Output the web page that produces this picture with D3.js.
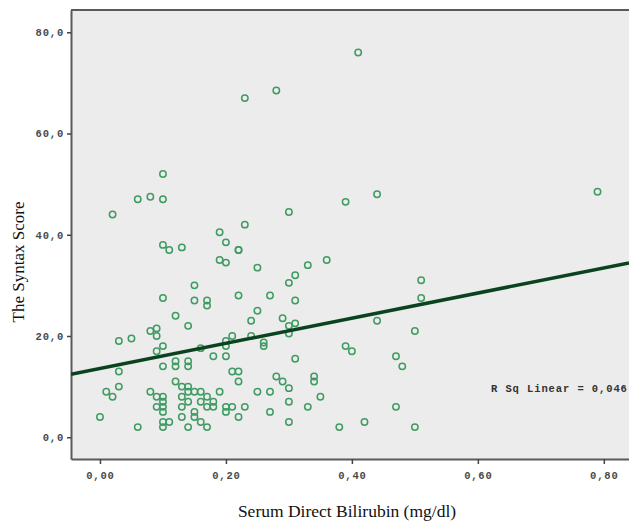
<!DOCTYPE html>
<html>
<head>
<meta charset="utf-8">
<script src="https://cdn.jsdelivr.net/npm/d3@7"></script>
<style>
  html, body { margin: 0; padding: 0; background: #ffffff; }
  svg { display: block; }
</style>
</head>
<body>
<svg id="chart" width="629" height="521"></svg>
<script>
// ---- data ----
const bilirubin = [
  0.41,0.28,0.23,0.10,0.06,0.08,0.10,0.02,0.30,0.79,0.39,0.44,0.23,0.19,0.20,0.10,0.11,0.13,0.22,0.22,
  0.36,0.19,0.20,0.25,0.33,0.31,0.30,0.15,0.51,0.10,0.15,0.17,0.17,0.22,0.27,0.31,0.51,0.25,0.12,0.24,
  0.29,0.44,0.30,0.31,0.14,0.08,0.09,0.30,0.50,0.09,0.21,0.24,0.03,0.05,0.20,0.26,0.10,0.20,0.26,0.39,
  0.16,0.09,0.40,0.18,0.20,0.47,0.31,0.12,0.14,0.10,0.12,0.14,0.48,0.03,0.21,0.22,0.28,0.34,0.12,0.22,
  0.29,0.34,0.03,0.13,0.14,0.30,0.01,0.08,0.14,0.15,0.16,0.19,0.25,0.27,0.02,0.09,0.10,0.13,0.17,0.35,
  0.10,0.14,0.16,0.18,0.30,0.09,0.10,0.13,0.17,0.18,0.20,0.21,0.23,0.33,0.47,0.10,0.15,0.20,0.27,0.00,
  0.13,0.15,0.22,0.10,0.11,0.16,0.30,0.42,0.06,0.10,0.14,0.17,0.38,0.50
];
const syntaxScore = [
  76.0,68.5,67.0,52.0,47.0,47.5,47.0,44.0,44.5,48.5,46.5,48.0,42.0,40.5,38.5,38.0,37.0,37.5,37.0,37.0,
  35.0,35.0,34.5,33.5,34.0,32.0,30.5,30.0,31.0,27.5,27.0,27.0,26.0,28.0,28.0,27.0,27.5,25.0,24.0,23.0,
  23.5,23.0,22.0,22.5,22.0,21.0,21.5,20.5,21.0,20.0,20.0,20.0,19.0,19.5,19.0,18.7,18.0,18.0,18.0,18.0,
  17.6,17.0,17.0,16.0,16.0,16.0,15.5,15.0,15.0,14.0,14.0,14.0,14.0,13.0,13.0,13.0,12.0,12.0,11.0,11.0,
  11.0,11.0,10.0,10.0,10.0,9.7,9.0,9.0,9.0,9.0,9.0,9.0,9.0,9.0,8.0,8.0,8.0,8.0,8.0,8.0,
  7.0,7.0,7.0,7.0,7.0,6.0,6.0,6.0,6.0,6.0,6.0,6.0,6.0,6.0,6.0,5.0,5.0,5.0,5.0,4.0,
  4.0,4.0,4.0,3.0,3.0,3.0,3.0,3.0,2.0,2.0,2.0,2.0,2.0,2.0
];
const xTicks = [0.0, 0.2, 0.4, 0.6, 0.8];
const yTicks = [0, 20, 40, 60, 80];
const fitIntercept = 13.6;
const fitSlope = 24.8;
const rSquaredLabel = "R Sq Linear = 0,046";
const xTitle = "Serum Direct Bilirubin (mg/dl)";
const yTitle = "The Syntax Score";

// ---- layout ----
const svg = d3.select("#chart");
const pLeft = 71, pRight = 629, pTop = 10, pBottom = 459;
const x = d3.scaleLinear().domain([-0.046, 0.84]).range([pLeft, pRight]);
const y = d3.scaleLinear().domain([-4.3, 84.4]).range([pBottom, pTop]);

const points = bilirubin.map((b, i) => ({ x: b, y: syntaxScore[i] }));

// plot background
svg.append("rect")
  .attr("x", pLeft).attr("y", pTop)
  .attr("width", pRight - pLeft).attr("height", pBottom - pTop)
  .attr("fill", "#ececec");

// frame (top line)
svg.append("line")
  .attr("x1", pLeft).attr("x2", pRight + 5)
  .attr("y1", pTop).attr("y2", pTop)
  .attr("stroke", "#5a5a5a").attr("stroke-width", 2);

const commaFmt = f => v => d3.format(f)(v).replace(".", ",");

// axes
const yAxis = svg.append("g")
  .attr("transform", `translate(${pLeft},0)`)
  .call(d3.axisLeft(y).tickValues(yTicks).tickSize(4).tickSizeOuter(0).tickFormat(commaFmt(".1f")));
const xAxis = svg.append("g")
  .attr("transform", `translate(0,${pBottom})`)
  .call(d3.axisBottom(x).tickValues(xTicks).tickSize(5).tickSizeOuter(0).tickFormat(commaFmt(".2f")));

[yAxis, xAxis].forEach(g => {
  g.select(".domain").attr("stroke", "#5a5a5a").attr("stroke-width", 2);
  g.selectAll(".tick line").attr("stroke", "#444").attr("stroke-width", 1.5);
  g.selectAll(".tick text")
    .attr("fill", "#4a4a4a")
    .style("font-family", "'Liberation Mono', 'DejaVu Sans Mono', monospace")
    .style("font-weight", "bold")
    .style("font-size", "10.5px")
    .style("letter-spacing", "0.8px");
});
yAxis.selectAll(".tick text").attr("x", -7);
xAxis.selectAll(".tick text").attr("y", 13);

// clip for plot area
svg.append("clipPath").attr("id", "plotclip")
  .append("rect").attr("x", pLeft).attr("y", pTop).attr("width", pRight - pLeft).attr("height", pBottom - pTop);

const plot = svg.append("g").attr("clip-path", "url(#plotclip)");

// points
plot.selectAll("circle.pt")
  .data(points)
  .join("circle")
  .attr("class", "pt")
  .attr("cx", d => x(d.x))
  .attr("cy", d => y(d.y))
  .attr("r", 3.2)
  .attr("fill", "none")
  .attr("stroke", "#3f9b62")
  .attr("stroke-width", 1.5);

// fit line
const xd = x.domain();
plot.append("line")
  .attr("x1", x(xd[0])).attr("y1", y(fitIntercept + fitSlope * xd[0]))
  .attr("x2", x(xd[1])).attr("y2", y(fitIntercept + fitSlope * xd[1]))
  .attr("stroke", "#0b4220")
  .attr("stroke-width", 3.5);

// R squared label
svg.append("text")
  .attr("x", 491).attr("y", y(9.0))
  .attr("fill", "#333")
  .style("font-family", "'Liberation Mono', 'DejaVu Sans Mono', monospace")
  .style("font-weight", "bold")
  .style("font-size", "10.5px")
  .style("letter-spacing", "0.9px")
  .text(rSquaredLabel);

// axis titles
svg.append("text")
  .attr("x", 347).attr("y", 517)
  .attr("text-anchor", "middle")
  .attr("fill", "#111")
  .style("font-family", "'Liberation Serif', 'Times New Roman', serif")
  .style("font-size", "17.5px")
  .text(xTitle);

svg.append("text")
  .attr("transform", "translate(24,262) rotate(-90)")
  .attr("text-anchor", "middle")
  .attr("fill", "#111")
  .style("font-family", "'Liberation Serif', 'Times New Roman', serif")
  .style("font-size", "17px")
  .text(yTitle);
</script>
</body>
</html>
